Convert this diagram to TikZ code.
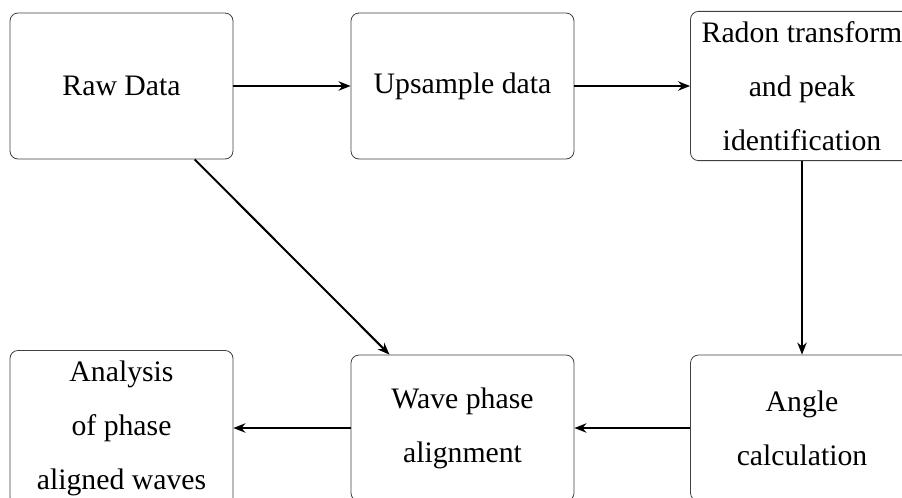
\documentclass[tikz,border=0pt]{standalone}
\usepackage{fontspec}
\setmainfont{Liberation Serif}
\usetikzlibrary{arrows.meta}
\begin{document}
\begin{tikzpicture}[x=0.75pt,y=-0.75pt,
  stepbox/.style={draw=black!75, line width=0.6pt, rounded corners=6pt,
    minimum width=167.25pt, minimum height=109.5pt, inner sep=7.5pt,
    align=center, font=\fontsize{22.3pt}{40.5pt}\selectfont},
  flow/.style={line width=1.5pt, -{Stealth[length=9pt,width=7pt]}}]
\clip (0,0) rectangle (902,497);
\node[stepbox] (raw) at (121.5,86) {Raw Data};
\node[stepbox] (up) at (462.5,86) {Upsample data};
\node[stepbox] (radon) at (802,86) {Radon transform\\and peak\\identification};
\node[stepbox] (angle) at (802,428) {Angle\\calculation};
\node[stepbox] (wave) at (462.5,428) {Wave phase\\alignment};
\node[stepbox] (ana) at (121.5,428) {Analysis\\of phase\\aligned waves};
\draw[flow] (raw) -- (up);
\draw[flow] (up) -- (radon);
\draw[flow] (radon) -- (angle);
\draw[flow] (angle) -- (wave);
\draw[flow] (wave) -- (ana);
\draw[flow] (raw) -- (wave);
\end{tikzpicture}
\end{document}
